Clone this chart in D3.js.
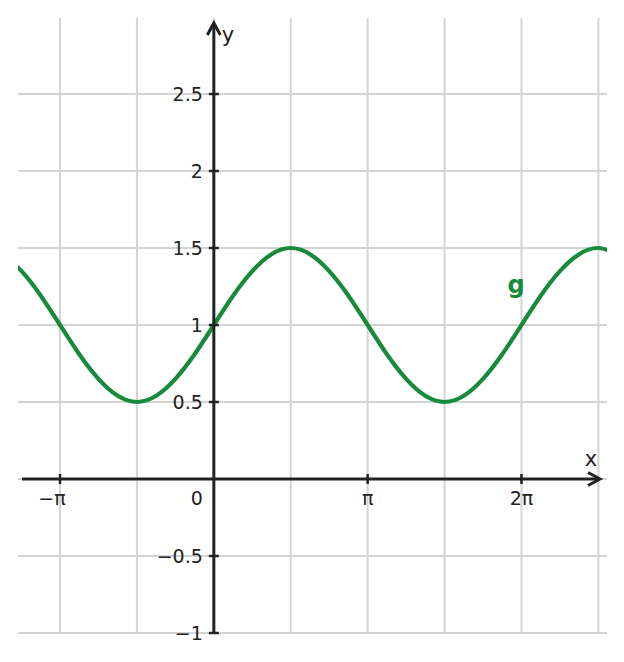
<!DOCTYPE html>
<html>
<head>
  <meta charset="utf-8">
  <title>g(x)</title>
  <script src="https://d3js.org/d3.v7.min.js"></script>
  <style>
    body { margin: 0; background: #fff; }
    text { font-family: "DejaVu Sans", sans-serif; fill: #222; }
  </style>
</head>
<body>
  <svg width="624" height="662"></svg>

  <script>
    // x positions in multiples of pi
    const xPi = [-1.375, -1.25, -1.125, -1, -0.875, -0.75, -0.625, -0.5, -0.375, -0.25, -0.125,
                 0, 0.125, 0.25, 0.375, 0.5, 0.625, 0.75, 0.875, 1, 1.125, 1.25, 1.375,
                 1.5, 1.625, 1.75, 1.875, 2, 2.125, 2.25, 2.375, 2.5, 2.625];
    const gVals = [1.46, 1.35, 1.19, 1, 0.81, 0.65, 0.54, 0.5, 0.54, 0.65, 0.81,
                   1, 1.19, 1.35, 1.46, 1.5, 1.46, 1.35, 1.19, 1, 0.81, 0.65, 0.54,
                   0.5, 0.54, 0.65, 0.81, 1, 1.19, 1.35, 1.46, 1.5, 1.46];

    const gridXPi = [-1, -0.5, 0, 0.5, 1, 1.5, 2, 2.5];
    const gridY = [-1, -0.5, 0, 0.5, 1, 1.5, 2, 2.5];
    const xTickPi = [-1, 1, 2];
    const xTickLabels = ["−π", "π", "2π"];
    const yTicks = [-1, -0.5, 0.5, 1, 1.5, 2, 2.5];

    const svg = d3.select("svg");
    const x = d3.scaleLinear().domain([-4, 8.03]).range([18, 607]);
    const y = d3.scaleLinear().domain([-1, 3]).range([633, 17]);
    const axisColor = "#222";

    svg.append("defs").append("clipPath").attr("id", "plot")
      .append("rect").attr("x", 18).attr("y", 17).attr("width", 589).attr("height", 617);

    // grid
    svg.append("g").selectAll("line").data(gridXPi).join("line")
      .attr("x1", d => x(d * Math.PI)).attr("x2", d => x(d * Math.PI))
      .attr("y1", 18).attr("y2", 634)
      .attr("stroke", "#d4d4d4").attr("stroke-width", 2);
    svg.append("g").selectAll("line").data(gridY).join("line")
      .attr("x1", 18).attr("x2", 607)
      .attr("y1", d => y(d)).attr("y2", d => y(d))
      .attr("stroke", "#d4d4d4").attr("stroke-width", 2);

    // curve
    const pts = xPi.map((v, i) => [v * Math.PI, gVals[i]]);
    svg.append("path").datum(pts)
      .attr("clip-path", "url(#plot)")
      .attr("fill", "none").attr("stroke", "#178a3c").attr("stroke-width", 4.2)
      .attr("d", d3.line().x(d => x(d[0])).y(d => y(d[1])).curve(d3.curveNatural));

    // axes
    const x0 = x(0), y0 = y(0);
    svg.append("line").attr("x1", 22).attr("x2", 600).attr("y1", y0).attr("y2", y0)
      .attr("stroke", axisColor).attr("stroke-width", 3);
    svg.append("line").attr("x1", x0).attr("x2", x0).attr("y1", 633).attr("y2", 24)
      .attr("stroke", axisColor).attr("stroke-width", 3);
    svg.append("path").attr("d", `M${588},${y0 - 6.5}L${600},${y0}L${588},${y0 + 6.5}`)
      .attr("fill", "none").attr("stroke", axisColor).attr("stroke-width", 3);
    svg.append("path").attr("d", `M${x0 - 6.5},${35}L${x0},${23}L${x0 + 6.5},${35}`)
      .attr("fill", "none").attr("stroke", axisColor).attr("stroke-width", 3);

    // ticks
    svg.append("g").selectAll("line").data(xTickPi).join("line")
      .attr("x1", d => x(d * Math.PI)).attr("x2", d => x(d * Math.PI))
      .attr("y1", y0 - 5).attr("y2", y0 + 5)
      .attr("stroke", axisColor).attr("stroke-width", 2.5);
    svg.append("g").selectAll("line").data(yTicks).join("line")
      .attr("x1", x0 - 5).attr("x2", x0 + 5)
      .attr("y1", d => y(d)).attr("y2", d => y(d))
      .attr("stroke", axisColor).attr("stroke-width", 2.5);

    svg.append("g").selectAll("text").data(xTickPi).join("text")
      .attr("x", d => x(d * Math.PI)).attr("y", y0 + 26)
      .attr("dx", (d, i) => xTickLabels[i].startsWith("−") ? -8 : 0)
      .attr("text-anchor", "middle").attr("font-size", 19)
      .text((d, i) => xTickLabels[i]);
    svg.append("g").selectAll("text").data(yTicks).join("text")
      .attr("x", x0 - 11).attr("y", d => y(d) + 7)
      .attr("text-anchor", "end").attr("font-size", 19)
      .text(d => d < 0 ? "−" + Math.abs(d) : d);
    svg.append("text").attr("x", x0 - 11).attr("y", y0 + 26)
      .attr("text-anchor", "end").attr("font-size", 19).text("0");

    // axis names
    svg.append("text").attr("x", 591).attr("y", 466).attr("text-anchor", "middle")
      .attr("font-size", 21).text("x");
    svg.append("text").attr("x", 228).attr("y", 42).attr("text-anchor", "middle")
      .attr("font-size", 21).text("y");

    // function label
    svg.append("text").attr("x", 516).attr("y", 293).attr("text-anchor", "middle")
      .attr("font-size", 24).attr("font-weight", "bold").style("fill", "#178a3c").text("g");
  </script>
</body>
</html>
